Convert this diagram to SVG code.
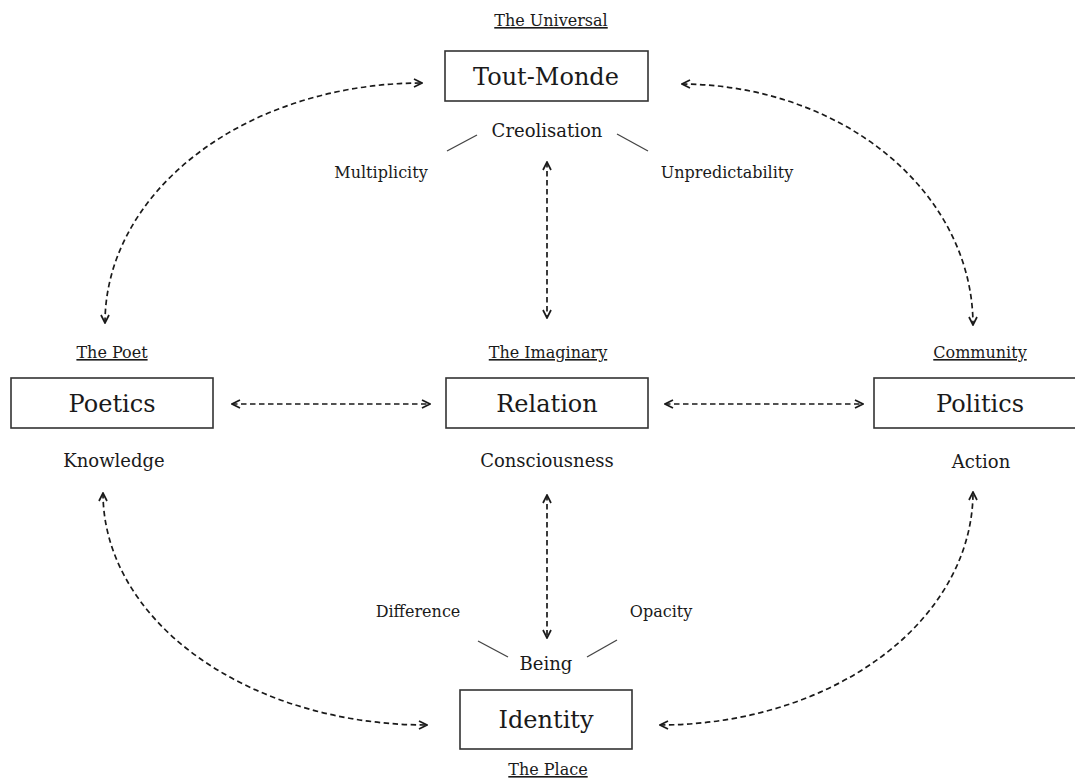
<svg xmlns="http://www.w3.org/2000/svg" width="1075" height="780" viewBox="0 0 1075 780">
<style>
text{font-family:"DejaVu Serif","Liberation Serif",serif;fill:#1a1a1a;text-anchor:middle}
.big{font-size:24px}
.mid{font-size:18px}
.sm{font-size:16px}
.ul{text-decoration:underline}
.box{fill:#fff;stroke:#333;stroke-width:1.6}
.conn{fill:none;stroke:#1a1a1a;stroke-width:1.7;stroke-dasharray:5.5 3.5}
.tick{stroke:#444;stroke-width:1.3}
</style>
<defs>
<marker id="ah" viewBox="0 0 10 10" refX="9" refY="5" markerWidth="10" markerHeight="10" markerUnits="userSpaceOnUse" orient="auto-start-reverse">
<path d="M1,1 L9,5 L1,9" fill="none" stroke="#1a1a1a" stroke-width="1.7"/>
</marker>
</defs>
<rect width="1075" height="780" fill="#fff"/>
<g id="connectors">
<path class="conn" d="M105,323 A317,240 0 0 1 422,83" marker-start="url(#ah)" marker-end="url(#ah)"/>
<path class="conn" d="M682,84 A293,241 0 0 1 973,325" marker-start="url(#ah)" marker-end="url(#ah)"/>
<path class="conn" d="M103,493 A324,232 0 0 0 427,725" marker-start="url(#ah)" marker-end="url(#ah)"/>
<path class="conn" d="M660,725 A313,233 0 0 0 973,492" marker-start="url(#ah)" marker-end="url(#ah)"/>
<path class="conn" d="M547,162 L547,318" marker-start="url(#ah)" marker-end="url(#ah)"/>
<path class="conn" d="M547,495 L547,638" marker-start="url(#ah)" marker-end="url(#ah)"/>
<path class="conn" d="M232,404 L430,404" marker-start="url(#ah)" marker-end="url(#ah)"/>
<path class="conn" d="M665,404 L863,404" marker-start="url(#ah)" marker-end="url(#ah)"/>
<line class="tick" x1="447" y1="151" x2="477" y2="135"/>
<line class="tick" x1="617" y1="134" x2="648" y2="151"/>
<line class="tick" x1="478" y1="641" x2="508" y2="657"/>
<line class="tick" x1="587" y1="657" x2="617" y2="640"/>
</g>
<g id="tout-monde">
<text class="sm ul" x="551" y="26">The Universal</text>
<rect class="box" x="445" y="51" width="203" height="50"/>
<text class="big" x="546" y="85">Tout-Monde</text>
<text class="mid" x="547" y="137">Creolisation</text>
<text class="sm" x="381" y="178">Multiplicity</text>
<text class="sm" x="727" y="178">Unpredictability</text>
</g>
<g id="poetics">
<text class="sm ul" x="112" y="358">The Poet</text>
<rect class="box" x="11" y="378" width="202" height="50"/>
<text class="big" x="112" y="412">Poetics</text>
<text class="mid" x="114" y="467">Knowledge</text>
</g>
<g id="relation">
<text class="sm ul" x="548" y="358">The Imaginary</text>
<rect class="box" x="446" y="378" width="202" height="50"/>
<text class="big" x="547" y="412">Relation</text>
<text class="mid" x="547" y="467">Consciousness</text>
</g>
<g id="politics">
<text class="sm ul" x="980" y="358">Community</text>
<rect class="box" x="874" y="378" width="215" height="50"/>
<text class="big" x="980" y="412">Politics</text>
<text class="mid" x="981" y="468">Action</text>
</g>
<g id="identity">
<text class="sm" x="418" y="617">Difference</text>
<text class="sm" x="661" y="617">Opacity</text>
<text class="mid" x="546" y="670">Being</text>
<rect class="box" x="460" y="690" width="172" height="59"/>
<text class="big" x="546" y="728">Identity</text>
<text class="sm ul" x="548" y="775">The Place</text>
</g>
</svg>
